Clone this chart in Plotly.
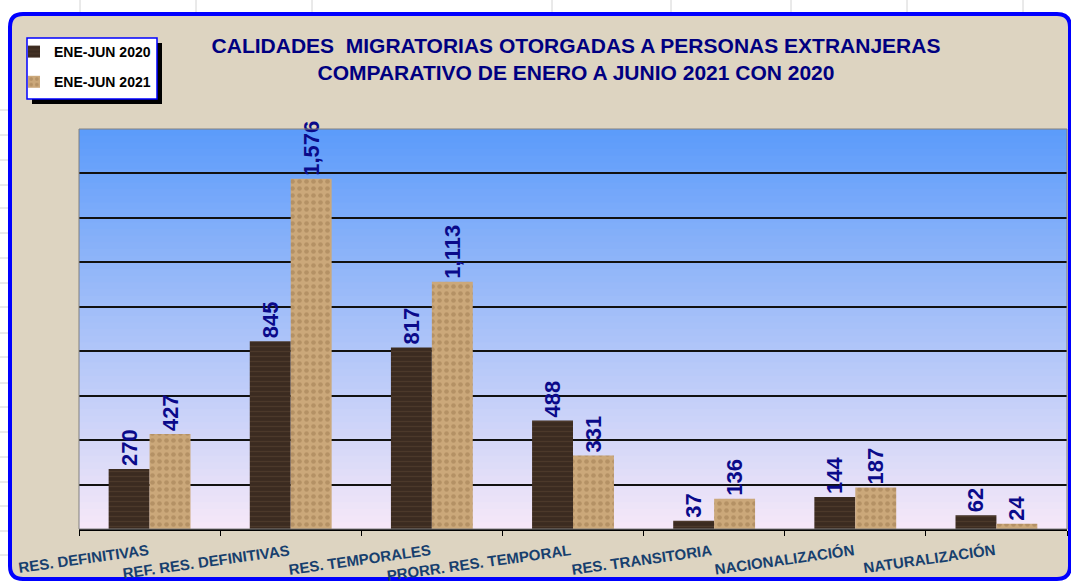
import plotly.graph_objects as go

categories = ["RES. DEFINITIVAS", "REF. RES. DEFINITIVAS", "RES. TEMPORALES",
              "PRORR. RES. TEMPORAL", "RES. TRANSITORIA", "NACIONALIZACIÓN",
              "NATURALIZACIÓN"]
v2020 = [270, 845, 817, 488, 37, 144, 62]
v2021 = [427, 1576, 1113, 331, 136, 187, 24]
series_names = ["ENE-JUN 2020", "ENE-JUN 2021"]

W, H = 1071, 583
ML, MR, MT, MB = 79, 4, 129, 54
PW, PH = W - ML - MR, H - MT - MB

def px(x):
    return (x - ML) / PW

def py(y):
    return (H - MB - y) / PH

FONT = "Liberation Sans, Arial, sans-serif"

fig = go.Figure()
fig.add_trace(go.Bar(
    x=categories, y=v2020, name=series_names[0], legendgroup="a",
    marker=dict(color="#3B2B20", line=dict(width=0),
                pattern=dict(shape="-", fgcolor="#5E4834", bgcolor="#3B2B20",
                             size=5, solidity=0.25, fillmode="overlay")),
    texttemplate="%{y:,.0f}", textposition="outside", textangle=-90,
    constraintext="none",
    textfont=dict(family=FONT, size=22, color="#0A0A8A", weight="bold"),
    cliponaxis=False,
))
fig.add_trace(go.Bar(
    x=categories, y=v2021, name=series_names[1], legendgroup="b",
    marker=dict(color="#C9A678", line=dict(width=0),
                pattern=dict(shape=".", fgcolor="#9E7A50", bgcolor="#CBA87A",
                             size=7, solidity=0.35, fillmode="overlay")),
    texttemplate="%{y:,.0f}", textposition="outside", textangle=-90,
    constraintext="none",
    textfont=dict(family=FONT, size=22, color="#0A0A8A", weight="bold"),
    cliponaxis=False,
))

shapes = []
# Excel grid lines outside the chart frame
for gx in [80, 196, 312, 552, 671, 791, 907, 1023]:
    shapes.append(dict(type="line", xref="paper", yref="paper",
                       x0=px(gx), x1=px(gx), y0=py(0), y1=py(12),
                       line=dict(color="#D4D4D4", width=1), layer="below"))
for gy in [110, 135, 160, 185, 208, 233, 258, 283, 307, 333, 357, 383, 407,
           432, 457, 482, 506, 531, 555]:
    shapes.append(dict(type="line", xref="paper", yref="paper",
                       x0=px(0), x1=px(8), y0=py(gy), y1=py(gy),
                       line=dict(color="#D4D4D4", width=1), layer="below"))

# rounded chart frame
L, T, R, B, r = 10, 14, 1070, 579, 13
path = (f"M {px(L + r)},{py(T)} L {px(R - r)},{py(T)} Q {px(R)},{py(T)} {px(R)},{py(T + r)} "
        f"L {px(R)},{py(B - r)} Q {px(R)},{py(B)} {px(R - r)},{py(B)} "
        f"L {px(L + r)},{py(B)} Q {px(L)},{py(B)} {px(L)},{py(B - r)} "
        f"L {px(L)},{py(T + r)} Q {px(L)},{py(T)} {px(L + r)},{py(T)} Z")
shapes.append(dict(type="path", xref="paper", yref="paper", path=path,
                   fillcolor="#DDD4C1", line=dict(color="#0000FF", width=4),
                   layer="below"))

# plot-area vertical gradient
top_c = (91, 155, 250)
bot_c = (246, 232, 248)
N = 60
for i in range(N):
    t = (i + 0.5) / N
    c = tuple(int(round(top_c[k] + (bot_c[k] - top_c[k]) * t)) for k in range(3))
    shapes.append(dict(type="rect", xref="x domain", yref="y domain",
                       x0=0, x1=1, y0=1 - (i + 1) / N - 0.002, y1=1 - i / N,
                       fillcolor=f"rgb{c}", line=dict(width=0), layer="below"))
# plot-area border
shapes.append(dict(type="rect", xref="x domain", yref="y domain", x0=0, x1=1,
                   y0=0, y1=1, line=dict(color="#808080", width=1),
                   fillcolor="rgba(0,0,0,0)", layer="above"))

# legend box + shadow
shapes.append(dict(type="rect", xref="paper", yref="paper",
                   x0=px(32), x1=px(162), y0=py(104), y1=py(43),
                   fillcolor="#000000", line=dict(width=0), layer="above"))
shapes.append(dict(type="rect", xref="paper", yref="paper",
                   x0=px(27), x1=px(157), y0=py(99), y1=py(38),
                   fillcolor="#FFFFFF", line=dict(color="#0000FF", width=1.5),
                   layer="above"))

annotations = []
for c in categories:
    annotations.append(dict(x=c, xref="x", y=0, yref="paper", xanchor="right",
                            yanchor="top", yshift=-10, xshift=2, textangle=-8,
                            text=c, showarrow=False,
                            font=dict(family=FONT, size=15, color="#173F6E",
                                      weight="bold")))

fig.update_layout(
    width=W, height=H,
    margin=dict(l=ML, r=MR, t=MT, b=MB, pad=0),
    paper_bgcolor="#FFFFFF", plot_bgcolor="rgba(0,0,0,0)",
    barmode="group", bargap=0.42, bargroupgap=0,
    title=dict(text="CALIDADES  MIGRATORIAS OTORGADAS A PERSONAS EXTRANJERAS<br>"
                    "COMPARATIVO DE ENERO A JUNIO 2021 CON 2020",
               x=576 / W, xanchor="center", xref="container",
               y=1 - 53 / H, yanchor="top", yref="container",
               font=dict(family=FONT, size=21, color="#000080", weight="bold")),
    showlegend=True,
    legend=dict(x=px(14), y=py(36), xanchor="left", yanchor="top",
                bgcolor="rgba(0,0,0,0)", borderwidth=0, tracegroupgap=9,
                traceorder="grouped",
                font=dict(family=FONT, size=14, color="#000000", weight="bold")),
    xaxis=dict(type="category", range=[-0.5, len(categories) - 0.5],
               showticklabels=False, ticks="outside",
               tickson="boundaries", ticklen=5, tickcolor="#000000",
               showline=True, linecolor="#000000", linewidth=1.5,
               showgrid=False, zeroline=False),
    yaxis=dict(range=[0, 1800], dtick=200, showticklabels=False,
               showgrid=True, gridcolor="#111111", gridwidth=1.5,
               zeroline=False, showline=False, ticks=""),
    shapes=shapes, annotations=annotations,
)

fig.write_html("out.html", config={"displayModeBar": False},
               post_script="document.body.style.margin='0';document.body.style.overflow='hidden';")
